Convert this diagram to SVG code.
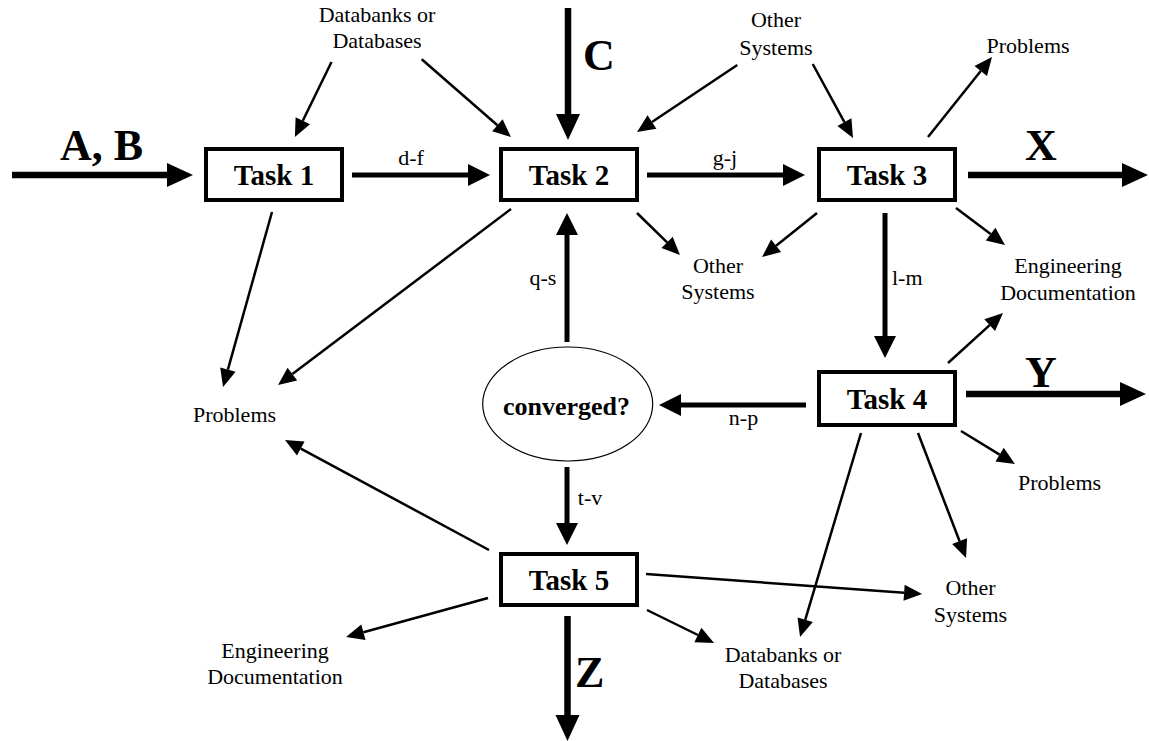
<svg xmlns="http://www.w3.org/2000/svg" width="1149" height="741" viewBox="0 0 1149 741">
  <style>
    .box { fill: #fff; stroke: #000; stroke-width: 4; }
    .task { font-family: "Liberation Serif", "Times New Roman", serif; font-weight: bold; font-size: 29px; text-anchor: middle; fill: #000; }
    .big { font-family: "Liberation Serif", "Times New Roman", serif; font-weight: bold; font-size: 44px; fill: #000; }
    .lbl { font-family: "Liberation Serif", "Times New Roman", serif; font-size: 22px; fill: #000; }
    .mid { text-anchor: middle; }
    .thin { stroke: #000; stroke-width: 2.5; fill: none; marker-end: url(#head-thin); }
    .med { stroke: #000; stroke-width: 5; fill: none; marker-end: url(#head-med); }
    .thick { stroke: #000; stroke-width: 6.5; fill: none; marker-end: url(#head-thick); }
  </style>
  <defs>
    <!-- heads are anchored at their base; each line ends where its head begins -->
    <marker id="head-thin" markerUnits="userSpaceOnUse" orient="auto" refX="0" refY="0" markerWidth="18" markerHeight="16" overflow="visible">
      <path d="M0,-8 L18,0 L0,8 z" fill="#000"/>
    </marker>
    <marker id="head-med" markerUnits="userSpaceOnUse" orient="auto" refX="0" refY="0" markerWidth="22" markerHeight="22" overflow="visible">
      <path d="M0,-11 L22,0 L0,11 z" fill="#000"/>
    </marker>
    <marker id="head-thick" markerUnits="userSpaceOnUse" orient="auto" refX="0" refY="0" markerWidth="26" markerHeight="24" overflow="visible">
      <path d="M0,-12 L26,0 L0,12 z" fill="#000"/>
    </marker>
  </defs>

  <rect width="1149" height="741" fill="#fff"/>

  <g id="connectors">
    <!-- main flows -->
    <line class="thick" x1="12" y1="175" x2="167" y2="175"/>
    <line class="thick" x1="568" y1="8" x2="568" y2="114"/>
    <line class="thick" x1="968" y1="175" x2="1122" y2="175"/>
    <line class="thick" x1="966" y1="394" x2="1120" y2="394"/>
    <line class="thick" x1="567.5" y1="616" x2="567.5" y2="715"/>

    <!-- task to task -->
    <line class="med" x1="352" y1="175" x2="468" y2="175"/>
    <line class="med" x1="647" y1="175" x2="783" y2="175"/>
    <line class="med" x1="885" y1="213" x2="885" y2="336"/>
    <line class="med" x1="806" y1="405" x2="681" y2="405"/>
    <line class="med" x1="567" y1="342" x2="567" y2="235"/>
    <line class="med" x1="567" y1="467" x2="567" y2="523"/>

    <!-- side inputs and outputs -->
    <line class="thin" x1="331.5" y1="62" x2="302.8" y2="120.8"/>
    <line class="thin" x1="421.7" y1="59.3" x2="497.4" y2="125.2"/>
    <line class="thin" x1="737.3" y1="65" x2="652" y2="122"/>
    <line class="thin" x1="812.7" y1="64" x2="844.4" y2="122.2"/>
    <line class="thin" x1="928" y1="137" x2="980.75" y2="71.06"/>
    <line class="thin" x1="956" y1="208" x2="990.6" y2="234.1"/>
    <line class="thin" x1="817" y1="213" x2="776.1" y2="245.75"/>
    <line class="thin" x1="637" y1="213" x2="667.1" y2="242.4"/>
    <line class="thin" x1="272" y1="212" x2="227.9" y2="369.7"/>
    <line class="thin" x1="511" y1="209" x2="292.4" y2="374.1"/>
    <line class="thin" x1="948" y1="363" x2="989.7" y2="325.1"/>
    <line class="thin" x1="961" y1="431" x2="999.6" y2="454.6"/>
    <line class="thin" x1="918" y1="433" x2="959.6" y2="541.2"/>
    <line class="thin" x1="861" y1="433" x2="805.2" y2="619.8"/>
    <line class="thin" x1="646" y1="574" x2="904.1" y2="592.7"/>
    <line class="thin" x1="647" y1="610" x2="697.9" y2="635"/>
    <line class="thin" x1="488" y1="598" x2="363.4" y2="632.2"/>
    <line class="thin" x1="489" y1="550" x2="300.8" y2="448.55"/>
  </g>

  <g id="flow-labels">
    <text class="big" x="60" y="160">A, B</text>
    <text class="big" x="583" y="70">C</text>
    <text class="big" x="1025" y="160">X</text>
    <text class="big" x="1025" y="387">Y</text>
    <text class="big" x="575" y="687">Z</text>
    <text class="lbl mid" x="411" y="165">d-f</text>
    <text class="lbl mid" x="725" y="165">g-j</text>
    <text class="lbl" x="892" y="285">l-m</text>
    <text class="lbl mid" x="743.5" y="425">n-p</text>
    <text class="lbl mid" x="543" y="285">q-s</text>
    <text class="lbl mid" x="590" y="505">t-v</text>
  </g>

  <g id="task1">
    <rect class="box" x="206" y="149" width="136" height="51"/>
    <text class="task" x="274" y="185">Task 1</text>
  </g>
  <g id="task2">
    <rect class="box" x="501" y="149" width="136" height="51"/>
    <text class="task" x="569" y="185">Task 2</text>
  </g>
  <g id="task3">
    <rect class="box" x="819" y="149" width="136" height="51"/>
    <text class="task" x="887" y="185">Task 3</text>
  </g>
  <g id="task4">
    <rect class="box" x="819" y="372" width="136" height="53"/>
    <text class="task" x="887" y="409">Task 4</text>
  </g>
  <g id="task5">
    <rect class="box" x="501" y="554" width="136" height="51"/>
    <text class="task" x="569" y="590">Task 5</text>
  </g>
  <g id="converged">
    <ellipse cx="567.7" cy="404" rx="85" ry="57" fill="#fff" stroke="#000" stroke-width="1.2"/>
    <text class="task" x="566.5" y="415" style="font-size:26px">converged?</text>
  </g>

  <g id="databases-top">
    <text class="lbl mid" x="377" y="21.5">Databanks or</text>
    <text class="lbl mid" x="377" y="48">Databases</text>
  </g>
  <g id="other-systems-top">
    <text class="lbl mid" x="776" y="26.5">Other</text>
    <text class="lbl mid" x="776" y="55">Systems</text>
  </g>
  <g id="problems-top">
    <text class="lbl mid" x="1028" y="53">Problems</text>
  </g>
  <g id="other-systems-mid">
    <text class="lbl mid" x="718" y="273">Other</text>
    <text class="lbl mid" x="718" y="299">Systems</text>
  </g>
  <g id="engineering-doc-right">
    <text class="lbl mid" x="1068" y="273">Engineering</text>
    <text class="lbl mid" x="1068" y="299.5">Documentation</text>
  </g>
  <g id="problems-left">
    <text class="lbl mid" x="234.5" y="422">Problems</text>
  </g>
  <g id="problems-right">
    <text class="lbl mid" x="1059.5" y="490">Problems</text>
  </g>
  <g id="other-systems-low">
    <text class="lbl mid" x="970.5" y="595">Other</text>
    <text class="lbl mid" x="970.5" y="622">Systems</text>
  </g>
  <g id="databases-bottom">
    <text class="lbl mid" x="783" y="662">Databanks or</text>
    <text class="lbl mid" x="783" y="688">Databases</text>
  </g>
  <g id="engineering-doc-left">
    <text class="lbl mid" x="275" y="658">Engineering</text>
    <text class="lbl mid" x="275" y="684">Documentation</text>
  </g>
</svg>
